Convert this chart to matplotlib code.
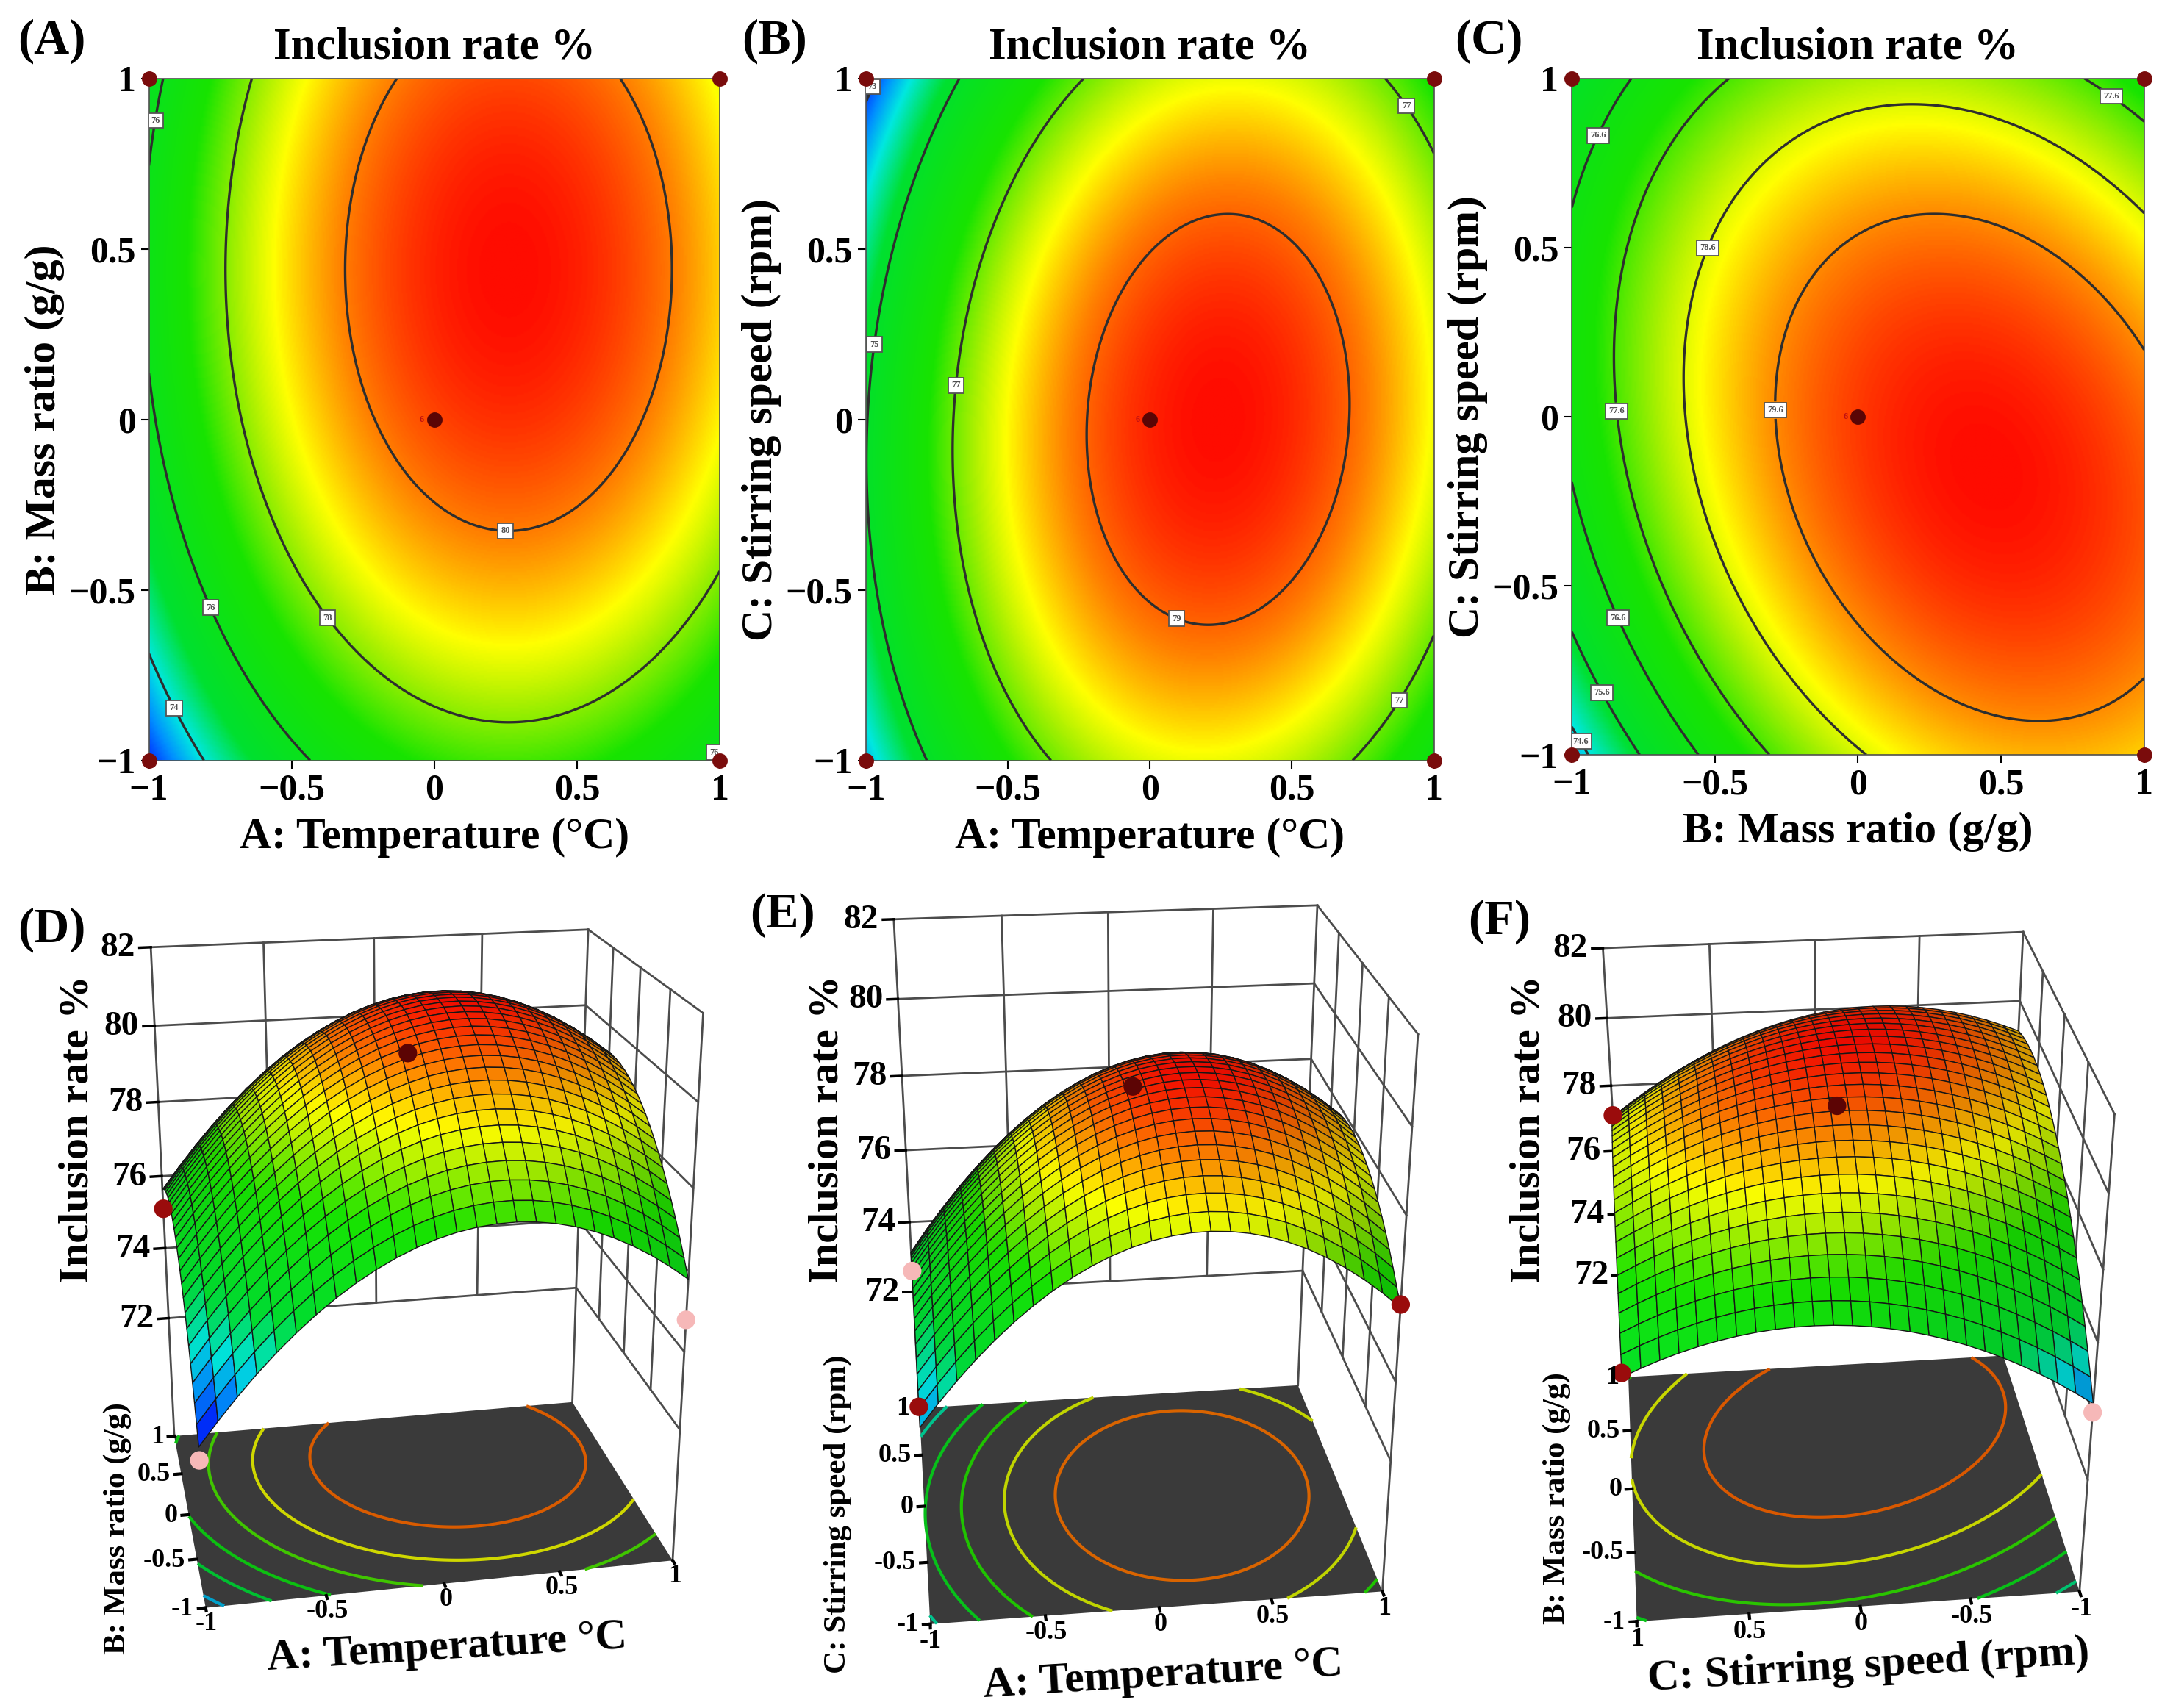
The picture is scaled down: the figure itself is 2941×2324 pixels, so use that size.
"""Response surface views of inclusion rate: contour maps (A-C) and 3-D surfaces (D-F)."""

import numpy as np
import matplotlib
matplotlib.use("Agg")
import matplotlib.pyplot as plt
from matplotlib.colors import LinearSegmentedColormap, Normalize
from mpl_toolkits.mplot3d import proj3d

plt.rcParams["font.family"] = ["Liberation Serif", "DejaVu Serif"]
plt.rcParams["font.weight"] = "bold"
plt.rcParams["axes.labelweight"] = "bold"
plt.rcParams["axes.titleweight"] = "bold"

W_PX, H_PX, DPI = 2941, 2324, 100

# quadratic response per factor pair (coded units)
# value = peak - cx*(x-x0)^2 - cy*(y-y0)^2 + cxy*(x-x0)*(y-y0)
PAIR_PEAK = [81.0, 79.65, 80.55]
PAIR_X0 = [0.26, 0.24, 0.45]
PAIR_Y0 = [0.44, 0.00, -0.15]
PAIR_CX = [3.05, 3.05, 1.85]
PAIR_CY = [1.70, 1.80, 1.80]
PAIR_CXY = [0.00, 0.35, -0.90]

CONTOUR_LEVELS = [
    [74, 76, 78, 80],
    [73, 75, 77, 79],
    [74.6, 75.6, 76.6, 77.6, 78.6, 79.6],
]
FLOOR_LEVELS = [
    [73.2, 74.5, 75.8, 77.1, 78.4, 79.7],
    [73.8, 75.0, 76.2, 77.4, 78.5],
    [74.7, 75.9, 77.1, 78.3, 79.5],
]
CODED_TICKS = [-1, -0.5, 0, 0.5, 1]
Z_TICKS = [72, 74, 76, 78, 80, 82]

PANEL_TAGS = ["(A)", "(B)", "(C)", "(D)", "(E)", "(F)"]
X_NAMES = ["A: Temperature (°C)", "A: Temperature (°C)", "B: Mass ratio (g/g)"]
Y_NAMES = ["B: Mass ratio (g/g)", "C: Stirring speed (rpm)", "C: Stirring speed (rpm)"]
X3D_NAMES = ["A: Temperature °C", "A: Temperature °C", "C: Stirring speed (rpm)"]
Y3D_NAMES = ["B: Mass ratio (g/g)", "C: Stirring speed (rpm)", "B: Mass ratio (g/g)"]
TITLE = "Inclusion rate %"

# design points drawn on the 3-D plots (plotted x, plotted y, response)
POINT_X = [[0, -1, 1, -1], [0, -1, -1, 1], [0, 1, 1, -1]]
POINT_Y = [[0, 1, -1, -1], [0, -1, 1, -1], [0, 1, -1, -1]]
POINT_Z = [[80.2, 75.1, 74.8, 72.3], [79.3, 74.1, 72.6, 75.9], [79.8, 77.1, 75.9, 74.0]]
POINT_KIND = [["c", "a", "b", "b"], ["c", "a", "b", "a"], ["c", "a", "a", "b"]]

# ---- style / layout ---------------------------------------------------------
CMAP = LinearSegmentedColormap.from_list("dx", [
    (0.00, "#0010ff"), (0.10, "#0090ff"), (0.18, "#00e8e0"), (0.30, "#00e030"),
    (0.55, "#18e400"), (0.68, "#a8f000"), (0.76, "#ffff00"), (0.88, "#ff8000"),
    (1.00, "#ff0c00")])
COLOR_LIMITS = [(72.4, 81.0), (72.6, 79.65), (73.3, 80.55)]
POINT_COLORS = {"c": "#5c0404", "a": "#9a0c0c", "b": "#f6b8b8"}
LIGHT_DIR = np.array([-0.35, -0.55, 0.76])

AX2D_RECTS = [
    [108 / 1568, 1 - 552 / 1240, 414 / 1568, 495 / 1240],
    [628 / 1568, 1 - 552 / 1240, 412 / 1568, 495 / 1240],
    [1140 / 1568, 1 - 548 / 1240, 415 / 1568, 491 / 1240],
]
LABEL_SPOTS = [
    [(0.25, -0.3), (-0.37, -0.58), (-0.78, -0.55), (-0.93, 0.87), (-0.92, -0.85), (0.92, -0.93)],
    [(0.1, -0.57), (-0.68, 0.1), (-0.97, 0.22), (0.92, 0.93), (0.87, -0.82), (-0.96, 0.97)],
    [(-0.25, 0.02), (-0.5, 0.49), (-0.8, 0.02), (0.88, 0.94), (-0.88, 0.82),
     (-0.8, -0.58), (-0.86, -0.8), (-0.95, -0.95)],
]
TAG_POS = [(70, 56), (1053, 56), (2025, 56), (70, 1265), (1064, 1245), (2040, 1254)]

XLIM3D = [(-1, 1), (-1, 1), (1, -1)]
SWAP_XY = [False, False, True]
Z_FLOOR, Z_WALL, Z_TOP = 68.5, 72.0, 82.0
VIEW_ELEV = [21, 25, 30]
VIEW_AZIM = [-101, -97, -96]
FOCAL = [0.458, 0.451, 0.497]
BOX_ASPECT = [(1, 0.8, 1.2), (1, 0.95, 1.3), (1, 1.0, 1.2)]
# pixel targets of box corners: floor back-left, floor front-right, top back-right,
# floor front-left, floor back-right, top front-right
BOX_TARGETS = [
    [(240, 1942), (928, 2135), (787, 1261), (285, 2193), (787, 1906), (940, 1379)],
    [(1253, 1899), (1889, 2178), (1787, 1250), (1265, 2221), (1777, 1877), (1912, 1390)],
    [(2222, 1874), (2830, 2171), (2747, 1268), (2232, 2211), (2731, 1849), (2862, 1501)],
]
ZLABEL_POS = [(106, 1537), (1125, 1537), (2079, 1537)]
XLABEL3D_POS = [(608, 2243), (1582, 2280), (2542, 2268)]
YLABEL3D_POS = [(160, 2080), (1140, 2060), (2118, 2039)]


def response(k, x, y):
    dx = x - PAIR_X0[k]
    dy = y - PAIR_Y0[k]
    return PAIR_PEAK[k] - PAIR_CX[k] * dx ** 2 - PAIR_CY[k] * dy ** 2 + PAIR_CXY[k] * dx * dy


def fig_xy(px, py):
    return px / W_PX, 1 - py / H_PX


def tick_text(v, minus="\u2212"):
    return f"{v:g}".replace("-", minus)


def draw_contour_panel(ax, k):
    g = np.linspace(-1, 1, 401)
    X, Y = np.meshgrid(g, g)
    Z = response(k, X, Y)
    norm = Normalize(*COLOR_LIMITS[k])
    ax.imshow(Z, extent=(-1, 1, -1, 1), origin="lower", cmap=CMAP, norm=norm,
              aspect="auto", interpolation="bilinear")
    cs = ax.contour(X, Y, Z, levels=CONTOUR_LEVELS[k], colors="#2e2e2e", linewidths=2.4)
    texts = ax.clabel(cs, manual=LABEL_SPOTS[k], fmt="%g", fontsize=9, inline=True,
                      inline_spacing=1)
    for t in texts:
        t.set_rotation(0)
        t.set_color("#505050")
        t.set_bbox(dict(boxstyle="square,pad=0.35", fc="white", ec="#555555", lw=1.3))
    ax.plot([-1, 1, -1, 1], [-1, -1, 1, 1], "o", color="#7a0c0c", ms=14,
            clip_on=False, zorder=6)
    ax.plot(0, 0, "o", color="#5a0505", ms=14, zorder=6)
    ax.text(-0.035, 0, "6", color="#c01010", fontsize=9, ha="right", va="center", zorder=6)

    ax.set_xlim(-1, 1)
    ax.set_ylim(-1, 1)
    ax.set_xticks(CODED_TICKS)
    ax.set_yticks(CODED_TICKS)
    ax.set_xticklabels([tick_text(v) for v in CODED_TICKS])
    ax.set_yticklabels([tick_text(v) for v in CODED_TICKS])
    ax.tick_params(direction="out", length=8, width=1.5, labelsize=36, pad=5)
    for sp in ax.spines.values():
        sp.set_color("#505050")
        sp.set_linewidth(1.2)
    ax.set_title(TITLE, fontsize=44, pad=20)
    ax.set_xlabel(X_NAMES[k], fontsize=43, labelpad=10)
    ax.set_ylabel(Y_NAMES[k], fontsize=43, labelpad=4)


def lit_colors(k, SX, SY, SZ, rgba):
    """Simple diffuse lighting from the front-left, in box-normalised units."""
    xa, xb = XLIM3D[k]
    bx, by, bz = BOX_ASPECT[k]
    dz_dy, dz_dx = np.gradient(SZ, SY[:, 0], SX[0, :])
    zscale = bz / (Z_TOP - Z_FLOOR)
    nx = -dz_dx * zscale / (bx / (xb - xa))
    ny = -dz_dy * zscale / (by / 2)
    n = np.stack([nx, ny, np.ones_like(nx)], axis=-1)
    n /= np.linalg.norm(n, axis=-1, keepdims=True)
    light = LIGHT_DIR / np.linalg.norm(LIGHT_DIR)
    shade = 0.62 + 0.38 * np.clip(n @ light, 0, 1)
    out = rgba.copy()
    out[..., :3] *= shade[..., None]
    return out


def floor_colors(k):
    """Contour colours on the dark floor: the surface palette, a touch warmer and muted."""
    norm = Normalize(*COLOR_LIMITS[k])
    cols = CMAP(np.clip(norm(np.array(FLOOR_LEVELS[k])) + 0.05, 0, 1))
    cols[:, :3] *= 0.85
    return cols


def draw_surface_panel(ax, k):
    """Draw one 3-D panel; returns the tick labels to place once the box is fitted."""
    xa, xb = XLIM3D[k]
    ya, yb = -1, 1
    z0, zw, z1 = Z_FLOOR, Z_WALL, Z_TOP
    sgn = np.sign(xa - xb)
    norm = Normalize(*COLOR_LIMITS[k])

    def model(x, y):
        return response(k, y, x) if SWAP_XY[k] else response(k, x, y)

    ax.set_facecolor((1, 1, 1, 0))
    ax.set_xlim(xa, xb)
    ax.set_ylim(ya, yb)
    ax.set_zlim(z0, z1)
    ax.set_box_aspect(BOX_ASPECT[k])
    ax.view_init(elev=VIEW_ELEV[k], azim=VIEW_AZIM[k])
    ax.set_proj_type("persp", focal_length=FOCAL[k])
    ax.set_axis_off()

    # grid walls (back and right) between the lowest and highest z tick
    wall = dict(color="#4c4c4c", lw=2.0, zorder=1)
    for v in CODED_TICKS[1:-1]:
        ax.plot([v, v], [yb, yb], [zw, z1], **wall)
        ax.plot([xb, xb], [v, v], [zw, z1], **wall)
    for z in Z_TICKS:
        ax.plot([xa, xb], [yb, yb], [z, z], **wall)
        ax.plot([xb, xb], [ya, yb], [z, z], **wall)
    # box edges running down to the floor
    for ex, ey in [(xa, yb), (xb, yb), (xb, ya)]:
        ax.plot([ex, ex], [ey, ey], [z0, z1], **wall)

    fx, fy = np.meshgrid([xa, xb], [ya, yb])
    ax.plot_surface(fx, fy, np.full(fx.shape, z0), color="#3a3a3a", shade=False,
                    linewidth=0, zorder=2)

    g = np.linspace(-1, 1, 201)
    X, Y = np.meshgrid(g, g)
    ax.contour(X, Y, model(X, Y), levels=FLOOR_LEVELS[k], zdir="z", offset=z0,
               colors=floor_colors(k), linewidths=3, zorder=3)

    s = np.linspace(-1, 1, 26)
    SX, SY = np.meshgrid(s, s)
    SZ = model(SX, SY)
    faces = lit_colors(k, SX, SY, SZ, CMAP(norm(SZ)))
    ax.plot_surface(SX, SY, SZ, facecolors=faces, rstride=1, cstride=1,
                    edgecolor="#161616", linewidth=1.0, shade=False, antialiased=True,
                    zorder=4)

    cols = [POINT_COLORS[c] for c in POINT_KIND[k]]
    ax.scatter(POINT_X[k], POINT_Y[k], POINT_Z[k], s=330, c=cols, depthshade=False,
               edgecolors="none", zorder=5)

    labels = []
    for z in Z_TICKS:
        ax.plot([xa, xa + sgn * 0.05], [yb, yb], [z, z], color="k", lw=2.5, zorder=1)
        labels.append(((xa + sgn * 0.07, yb, z), f"{z}", "right", "center", 34))
    for v in CODED_TICKS:
        ax.plot([xa, xa + sgn * 0.03], [v, v], [z0, z0], color="k", lw=3, zorder=3)
        labels.append(((xa + sgn * 0.05, v, z0), tick_text(v, "-"), "right", "center", 26))
        ax.plot([v, v], [ya, ya - 0.03], [z0, z0], color="k", lw=3, zorder=3)
        labels.append(((v, ya - 0.04, z0), tick_text(v, "-"), "center", "top", 26))
    return labels


def box_corners(k):
    xa, xb = XLIM3D[k]
    return [(xa, 1, Z_FLOOR), (xb, -1, Z_FLOOR), (xb, 1, Z_TOP),
            (xa, -1, Z_FLOOR), (xb, 1, Z_FLOOR), (xb, -1, Z_TOP)]


def to_pixels(ax, pts3):
    pts3 = np.asarray(pts3, dtype=float).T
    xs, ys, _ = proj3d.proj_transform(pts3[0], pts3[1], pts3[2], ax.get_proj())
    return ax.transData.transform(np.column_stack([xs, ys]))


def fit_box(ax, k):
    """Rescale and shift the 3-D axes so its box lands on the target corners."""
    pts = to_pixels(ax, box_corners(k))
    tgt = np.array(BOX_TARGETS[k], dtype=float)
    tgt[:, 1] = H_PX - tgt[:, 1]
    n = len(pts)
    A = np.zeros((2 * n, 3))
    b = np.zeros(2 * n)
    A[0::2, 0], A[0::2, 1], b[0::2] = pts[:, 0], 1, tgt[:, 0]
    A[1::2, 0], A[1::2, 2], b[1::2] = pts[:, 1], 1, tgt[:, 1]
    sc, tx, ty = np.linalg.lstsq(A, b, rcond=None)[0]
    bb = ax.get_position()
    x0, y0 = bb.x0 * W_PX, bb.y0 * H_PX
    w, h = bb.width * W_PX, bb.height * H_PX
    ax.set_position([(sc * x0 + tx) / W_PX, (sc * y0 + ty) / H_PX,
                     sc * w / W_PX, sc * h / H_PX])


def main():
    fig = plt.figure(figsize=(W_PX / DPI, H_PX / DPI), dpi=DPI)
    for k in range(3):
        ax = fig.add_axes(AX2D_RECTS[k])
        draw_contour_panel(ax, k)

    axes3d, tick_specs = [], []
    for k in range(3):
        cx = [590, 1580, 2540][k]
        rect = [(cx - 450) / W_PX, 1 - (1730 + 450) / H_PX, 900 / W_PX, 900 / H_PX]
        ax = fig.add_axes(rect, projection="3d", computed_zorder=False)
        tick_specs.append(draw_surface_panel(ax, k))
        axes3d.append(ax)

        fig.text(*fig_xy(*ZLABEL_POS[k]), TITLE, rotation=90, ha="center", va="center",
                 fontsize=42)
        fig.text(*fig_xy(*XLABEL3D_POS[k]), X3D_NAMES[k], rotation=3.5, ha="center",
                 va="center", fontsize=43)
        fig.text(*fig_xy(*YLABEL3D_POS[k]), Y3D_NAMES[k], rotation=90, ha="center",
                 va="center", fontsize=31)

    for i, tag in enumerate(PANEL_TAGS):
        fig.text(*fig_xy(*TAG_POS[i]), tag, ha="center", va="center", fontsize=48)

    fig.canvas.draw()
    for k, ax in enumerate(axes3d):
        fit_box(ax, k)
        anchors = to_pixels(ax, [spec[0] for spec in tick_specs[k]])
        for (px, py), (_, txt, ha, va, size) in zip(anchors, tick_specs[k]):
            fig.text(px / W_PX, py / H_PX, txt, ha=ha, va=va, fontsize=size)

    fig.savefig("out.png", dpi=DPI)
    plt.close(fig)


if __name__ == "__main__":
    main()
